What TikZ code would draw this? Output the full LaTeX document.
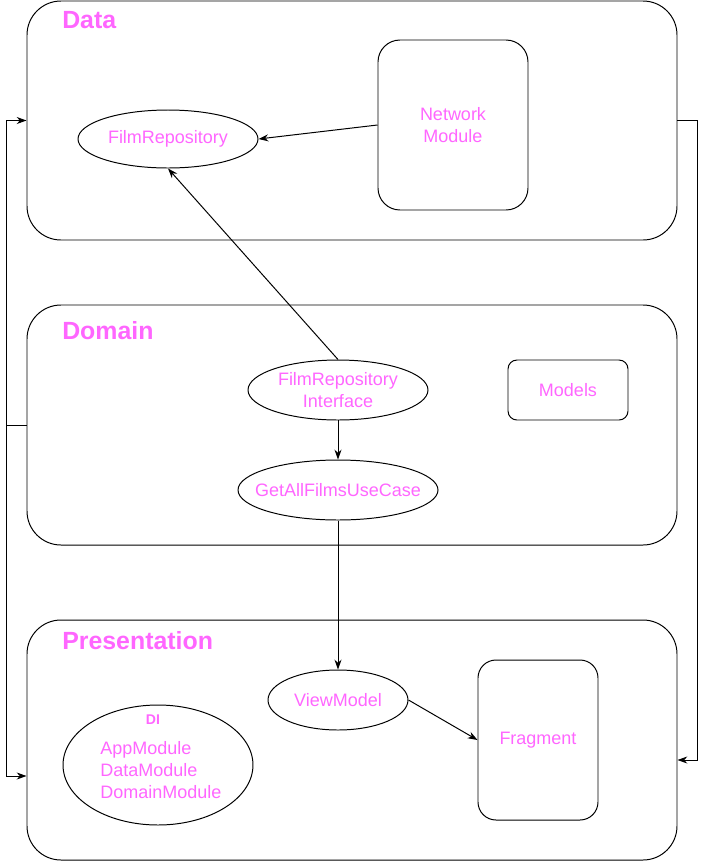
\documentclass[tikz,border=0pt]{standalone}
\usepackage{fontspec}
\setmainfont{Liberation Sans}
\usepackage{xcolor}
\definecolor{lbl}{HTML}{FF66FF}
\usetikzlibrary{arrows.meta,shapes.geometric}

\begin{document}
\begin{tikzpicture}[
      >={Stealth[length=7pt,width=5pt]},
      every node/.style={font=\fontsize{12.8}{15.6}\selectfont, text=lbl},
      every label/.style={font=\fontsize{12.8}{15.6}\selectfont, text=lbl},
      layer/.style={draw, rounded corners=0.85cm, line width=0.7pt,
        minimum width=16.25cm, minimum height=6cm},
      box/.style={draw, line width=0.7pt, align=center},
      oval/.style={draw, ellipse, line width=0.7pt, align=center, inner sep=0pt},
      title/.style={anchor=west, inner sep=0pt, font=\fontsize{17.7}{20}\selectfont\bfseries},
      arr/.style={->, line width=0.7pt},
    ]
      \useasboundingbox (0,0) rectangle (17.675,-21.525);
      % layers
      \node[layer, minimum height=5.975cm] (data) at (8.8,-3.0125) {};
      \node[layer] (domain) at (8.8,-10.625) {};
      \node[layer] (pres) at (8.8,-18.5) {};
      \node[title] (tdata) at (1.55,-0.5) {Data};
      \node[title] (tdomain) at (1.55,-8.275) {Domain};
      \node[title] (tpres) at (1.55,-16.025) {Presentation};
      % data
      \node[box, rounded corners=0.55cm, minimum width=3.75cm, minimum height=4.25cm] (net) at (11.325,-3.125) {Network\\Module};
      \node[oval, minimum width=4.5cm, minimum height=1.45cm] (repo) at (4.2,-3.475) {FilmRepository};
      % domain
      \node[oval, minimum width=4.5cm, minimum height=1.5cm] (repoif) at (8.45,-9.75) {FilmRepository\\Interface};
      \node[oval, minimum width=5cm, minimum height=1.5cm, label=center:GetAllFilmsUseCase] (usecase) at (8.45,-12.25) {};
      \node[box, rounded corners=0.225cm, minimum width=3cm, minimum height=1.5cm] (models) at (14.2,-9.75) {Models};
      % presentation
      \node[oval, minimum width=3.5cm, minimum height=1.5cm] (vm) at (8.45,-17.5) {ViewModel};
      \node[box, rounded corners=0.45cm, minimum width=3cm, minimum height=4cm] (frag) at (13.45,-18.5) {Fragment};
      \node[oval, minimum width=4.75cm, minimum height=3cm] (di) at (3.95,-19.125) {};
      \node[inner sep=0pt, font=\fontsize{10}{12}\selectfont\bfseries] (dititle) at (3.825,-18.0) {DI};
      \node[anchor=west, inner sep=0pt, align=left] (dimods) at (2.5,-19.25) {AppModule\\DataModule\\DomainModule};

      \draw[arr] (net.west) -- (repo.east);
      \draw[arr] (repoif.north) -- (repo.south);
      \draw[arr] (repoif.south) -- (usecase.north);
      \draw[arr] (usecase.south) -- (vm.north);
      \draw[arr] (vm.east) -- (frag.west);
      \draw[arr] (domain.west) -- ++(-0.5,0) |- (data.west);
      \draw[arr] (domain.west) -- ++(-0.5,0) |- ([yshift=-0.9cm]pres.west);
      \draw[arr] (data.east) -- ++(0.5,0) |- ([yshift=-0.5cm]pres.east);
    \end{tikzpicture}
\end{document}
